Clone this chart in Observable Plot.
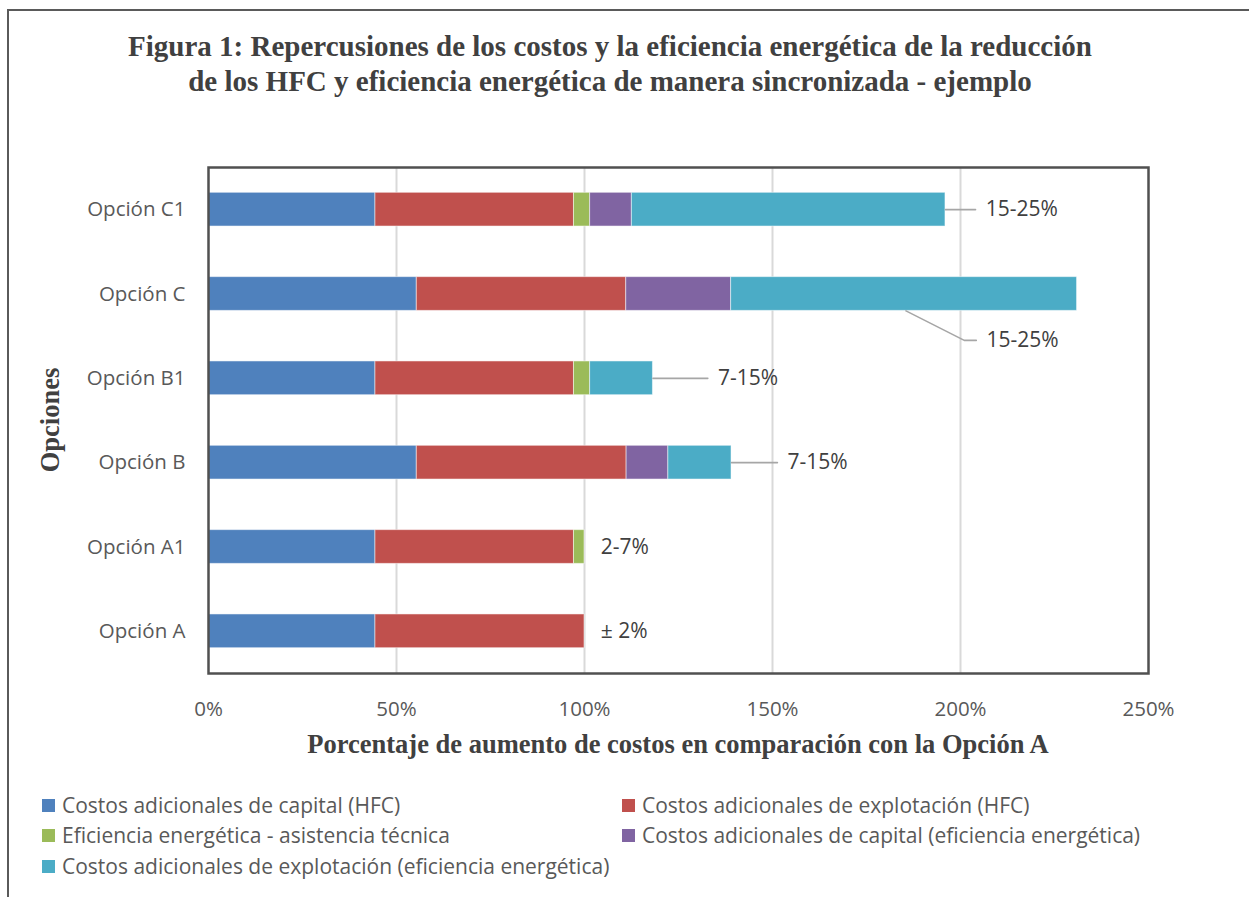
<!DOCTYPE html>
<html>
<head>
<meta charset="utf-8">
<script src="https://cdn.jsdelivr.net/npm/d3@7"></script>
<script src="https://cdn.jsdelivr.net/npm/@observablehq/plot@0.6"></script>
<style>
  html, body { margin: 0; padding: 0; background: #fff; }
  #page { position: relative; width: 1249px; height: 897px; overflow: hidden; background: #fff; }
  #border { position: absolute; left: 7px; top: 9px; right: -5px; bottom: -5px; border-top: 2px solid #5a5a5a; border-left: 2px solid #5a5a5a; }
  #title { position: absolute; left: 0; top: 29px; width: 1220px; text-align: center; font-family: "Liberation Serif", "DejaVu Serif", serif; font-weight: bold; font-size: 29px; line-height: 35px; color: #404040; }
  #chart { position: absolute; left: 0; top: 0; }
  #xtitle { position: absolute; left: 208px; width: 940px; top: 729px; text-align: center; font-family: "Liberation Serif", serif; font-weight: bold; font-size: 26.5px; color: #404040; }
  #ytitle { position: absolute; left: 50px; top: 420px; transform: translate(-50%, -50%) rotate(-90deg); font-family: "Liberation Serif", serif; font-weight: bold; font-size: 26.5px; color: #404040; white-space: nowrap; }
  .leg { position: absolute; font-family: "Open Sans", "Noto Sans", sans-serif; font-size: 21px; color: #595959; white-space: nowrap; display: flex; align-items: center; }
  .leg span.sw { display: inline-block; width: 13px; height: 13px; margin-right: 7px; }
</style>
</head>
<body>
<div id="page">
  <div id="border"></div>
  <div id="title">Figura 1: Repercusiones de los costos y la eficiencia energética de la reducción<br>de los HFC y eficiencia energética de manera sincronizada - ejemplo</div>
  <div id="chart"></div>
  <div id="xtitle">Porcentaje de aumento de costos en comparación con la Opción A</div>
  <div id="ytitle">Opciones</div>
  <div id="legend"></div>
</div>
<script>
// ---- Data ----
const options = ["Opción A", "Opción A1", "Opción B", "Opción B1", "Opción C", "Opción C1"];
const seriesNames = [
  "Costos adicionales de capital (HFC)",
  "Costos adicionales de explotación (HFC)",
  "Eficiencia energética - asistencia técnica",
  "Costos adicionales de capital (eficiencia energética)",
  "Costos adicionales de explotación (eficiencia energética)"
];
const capitalHFC      = [44.4, 44.4, 55.4, 44.4, 55.4, 44.4];
const explotacionHFC  = [55.6, 52.8, 55.8, 52.8, 55.7, 52.8];
const asistenciaEE    = [0,    2.8,  0,    4.3,  0,    4.3];
const capitalEE       = [0,    0,    11.1, 0,    27.9, 11.1];
const explotacionEE   = [0,    0,    16.8, 16.7, 92.0, 83.4];
const rangeLabels     = ["± 2%", "2-7%", "7-15%", "7-15%", "15-25%", "15-25%"];
const xTicks = [0, 50, 100, 150, 200, 250];
const colors = ["#4F81BD", "#C0504D", "#9BBB59", "#8064A2", "#4BACC6"];

// ---- Build tables ----
const seriesValues = [capitalHFC, explotacionHFC, asistenciaEE, capitalEE, explotacionEE];
const segments = [];
const totals = [];
options.forEach((opt, i) => {
  let acc = 0;
  seriesValues.forEach((vals, s) => {
    const v = vals[i];
    if (v > 0) segments.push({i, series: seriesNames[s], x1: acc, x2: acc + v});
    acc += v;
  });
  totals.push(acc);
});

// label layout (offsets in % units from bar end; leader length; vertical shift in band units)
const labelLayout = [
  {lead: 0,    gap: 4.3, shift: 0},
  {lead: 0,    gap: 4.3, shift: 0},
  {lead: 12.2, gap: 2.7, shift: 0},
  {lead: 14.6, gap: 2.7, shift: 0},
  {lead: 0,    gap: 2.7, shift: -0.55, bent: true},
  {lead: 8.0,  gap: 2.7, shift: 0}
];
const labels = [];
const leaders = [];
options.forEach((opt, i) => {
  const L = labelLayout[i];
  const t = totals[i];
  if (L.bent) {
    const xStart = t - 45.5;
    const xKnee = t - 30;
    const xEnd = xKnee + 3.2;
    leaders.push({i, pts: [[xStart, i - 0.2], [xKnee, i + L.shift], [xEnd, i + L.shift]]});
    labels.push({i, x: xEnd + L.gap, y: i + L.shift, text: rangeLabels[i]});
  } else {
    if (L.lead > 0) leaders.push({i, pts: [[t, i], [t + L.lead, i]]});
    labels.push({i, x: t + L.lead + L.gap, y: i, text: rangeLabels[i]});
  }
});
const leaderPts = leaders.flatMap(l => l.pts.map(p => ({id: l.i, x: p[0], y: p[1]})));

const W = 1249, H = 730;
const chart = Plot.plot({
  width: W,
  height: H,
  marginLeft: 208,
  marginRight: W - 1148,
  marginTop: 167,
  marginBottom: H - 673,
  style: {fontFamily: "'Open Sans', 'Noto Sans', sans-serif", fontSize: "20.5px", color: "#595959", background: "transparent"},
  x: {domain: [0, 250]},
  y: {domain: [-0.5, 5.5]},
  marks: [
    Plot.gridX([50, 100, 150, 200], {stroke: "#d9d9d9", strokeOpacity: 1, strokeWidth: 2}),
    Plot.rect(segments, {
      x1: "x1", x2: "x2",
      y1: d => d.i - 0.2, y2: d => d.i + 0.2,
      fill: d => colors[seriesNames.indexOf(d.series)],
      stroke: "#ffffff", strokeOpacity: 0.5, strokeWidth: 1
    }),
    Plot.line(leaderPts, {x: "x", y: "y", z: "id", stroke: "#a6a6a6", strokeWidth: 1.6}),
    Plot.text(labels, {x: "x", y: "y", text: "text", textAnchor: "start", fill: "#404040", fontSize: 21}),
    Plot.frame({stroke: "#505050", strokeWidth: 2.5}),
    Plot.axisX({ticks: xTicks, tickFormat: d => d + "%", tickSize: 0, tickPadding: 28, label: null, fill: "#595959"}),
    Plot.axisY({ticks: d3.range(options.length), tickFormat: i => options[i], tickSize: 0, tickPadding: 23, label: null, fill: "#595959"})
  ]
});
document.getElementById("chart").appendChild(chart);

// ---- Legend ----
const legPos = [
  {left: 42, top: 805}, {left: 622, top: 805},
  {left: 42, top: 835}, {left: 622, top: 835},
  {left: 42, top: 866}
];
const legend = document.getElementById("legend");
seriesNames.forEach((name, s) => {
  const el = document.createElement("div");
  el.className = "leg";
  el.style.left = legPos[s].left + "px";
  el.style.top = (legPos[s].top - 14) + "px";
  el.style.height = "28px";
  el.innerHTML = `<span class="sw" style="background:${colors[s]}"></span>${name}`;
  legend.appendChild(el);
});
</script>
</body>
</html>
